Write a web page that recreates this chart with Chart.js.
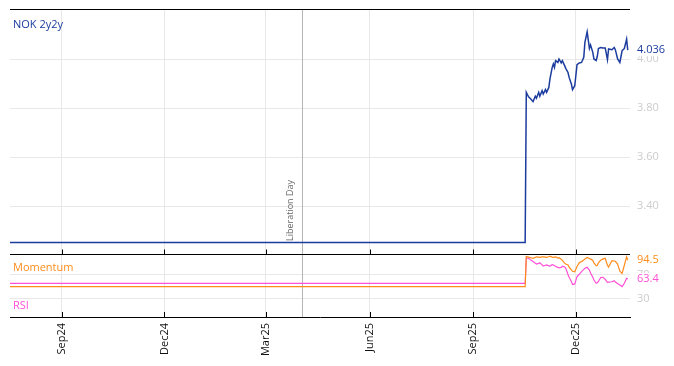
<!DOCTYPE html>
<html><head><meta charset="utf-8">
<script src="https://cdn.jsdelivr.net/npm/chart.js@4.4.0/dist/chart.umd.min.js"></script>
<style>html,body{margin:0;padding:0;background:#fff;}#wrap{width:674px;height:366px;}</style>
</head><body><div id="wrap"><canvas id="c" width="674" height="366"></canvas></div>
<script>
// ---- data ----
const dates = ['2024-07-17','2025-10-17','2025-10-18','2025-10-20','2025-10-22','2025-10-24','2025-10-26','2025-10-27','2025-10-29','2025-10-30',
'2025-11-01','2025-11-02','2025-11-04','2025-11-05','2025-11-07','2025-11-08','2025-11-10','2025-11-11','2025-11-12','2025-11-13',
'2025-11-15','2025-11-16','2025-11-18','2025-11-19','2025-11-21','2025-11-22','2025-11-24','2025-11-25','2025-11-27','2025-11-28',
'2025-11-30','2025-12-02','2025-12-04','2025-12-06','2025-12-08','2025-12-09','2025-12-11','2025-12-13','2025-12-14','2025-12-16',
'2025-12-17','2025-12-19','2025-12-20','2025-12-21','2025-12-23','2025-12-25','2025-12-27','2025-12-29','2025-12-30','2026-01-02',
'2026-01-04','2026-01-05','2026-01-07','2026-01-09','2026-01-11','2026-01-13','2026-01-15','2026-01-16'];
const nok2y2y = [3.251,3.251,3.864,3.846,3.837,3.826,3.848,3.840,3.864,3.848,
3.871,3.857,3.875,3.864,3.884,3.919,3.966,3.980,3.966,3.993,
3.986,4.000,3.984,3.993,3.973,3.962,3.945,3.925,3.898,3.875,
3.891,3.977,3.984,3.986,4.007,4.068,4.111,4.043,4.057,4.027,
4.000,3.994,4.011,4.043,4.047,4.045,4.045,3.997,4.041,4.038,
4.047,4.038,4.000,3.986,4.034,4.043,4.081,4.036];
const momentum = [50.3,50.3,100.5,99.5,98.5,97.5,99,100,99.5,99,
100,100,99.5,99,100,101,99.5,99,99.5,100,
98,98.5,96,94,89.5,88,86.5,83,78.5,76,
75,84,90,92,94.5,96.5,99,97,96.5,94,
90,85,86,90,94.5,96.5,97.5,86,83,93.5,
93,92.5,88,76,72.5,86,100,94.5];
const rsi = [56,56,98,97.5,94.5,92,89.5,88,89,90,
86.5,84.7,86,86.4,85,84.7,87,86.4,85.5,84,
82.5,81.5,82.5,84.5,83,81,70.5,66,59,54,
55,67,71,75.5,79,81,82.5,78,73,66,
61.5,56,57,59,65.5,66,62.5,57.5,58,58.6,
60.3,58,55.5,53,50.5,56,64.3,63.4];
const xTickDates = ['2024-09-01','2024-12-01','2025-03-01','2025-06-01','2025-09-01','2025-12-01'];
const xTickLabels = ['Sep24','Dec24','Mar25','Jun25','Sep25','Dec25'];
const priceTicks = [3.4,3.6,3.8,4.0];
const indicatorTicks = [30,70];
const axisStart = '2024-07-17', axisEnd = '2026-01-18';
const eventDate = '2025-04-02', eventLabel = 'Liberation Day';
const seriesNames = ['NOK 2y2y','Momentum','RSI'];

// ---- styles ----
const C_PRICE = '#1c3c9e', C_MOM = '#ff8c1a', C_RSI = '#ff4fd6';
const FONT = "'Open Sans', 'DejaVu Sans', sans-serif";
const ms = s => Date.parse(s);
const pts = arr => arr.map((v,i)=>({x: ms(dates[i]), y: v}));

Chart.defaults.font.family = FONT;
Chart.defaults.font.size = 11;

const overlay = {
  id: 'overlay',
  beforeDatasetsDraw(chart){
    const {ctx, chartArea:a, scales} = chart;
    const ex = Math.round(scales.x.getPixelForValue(ms(eventDate))) + 0.5;
    ctx.save();
    ctx.strokeStyle = '#b5b5b5'; ctx.lineWidth = 1;
    ctx.beginPath(); ctx.moveTo(ex, a.top); ctx.lineTo(ex, a.bottom); ctx.stroke();
    ctx.translate(ex - 12, scales.y.bottom - 14);
    ctx.rotate(-Math.PI/2);
    ctx.font = '9px ' + FONT; ctx.fillStyle = '#666';
    ctx.textAlign = 'left'; ctx.textBaseline = 'middle';
    ctx.fillText(eventLabel, 0, 0);
    ctx.restore();
  },
  afterDraw(chart){
    const {ctx, chartArea:a, scales} = chart;
    const y = scales.y, y2 = scales.y2, x = scales.x;
    ctx.save();
    ctx.strokeStyle = '#000'; ctx.lineWidth = 1;
    const topY = Math.round(a.top) - 0.5, midY = Math.round(y.bottom) - 0.5;
    ctx.beginPath();
    ctx.moveTo(a.left, topY); ctx.lineTo(a.right, topY);
    ctx.moveTo(a.left, midY); ctx.lineTo(a.right, midY);
    ctx.stroke();
    ctx.beginPath();
    xTickDates.forEach(d => {
      const px = Math.round(x.getPixelForValue(ms(d))) + 0.5;
      ctx.moveTo(px, midY); ctx.lineTo(px, midY - 5);
      ctx.moveTo(px, a.bottom); ctx.lineTo(px, a.bottom - 5);
    });
    ctx.stroke();
    ctx.font = '11px ' + FONT; ctx.textAlign = 'left'; ctx.textBaseline = 'middle';
    ctx.fillStyle = C_PRICE; ctx.fillText(seriesNames[0], a.left + 3, a.top + 15);
    ctx.fillStyle = C_MOM; ctx.fillText(seriesNames[1], a.left + 3, y2.top + 13);
    ctx.fillStyle = C_RSI; ctx.fillText(seriesNames[2], a.left + 3, y2.bottom - 11);
    const lab = (txt, py, col) => {
      const w = ctx.measureText(txt).width;
      ctx.fillStyle = '#fff'; ctx.fillRect(a.right + 5, py - 6, w + 4, 12);
      ctx.fillStyle = col; ctx.fillText(txt, a.right + 7, py);
    };
    const n = dates.length - 1;
    lab(nok2y2y[n].toFixed(3), y.getPixelForValue(nok2y2y[n]), C_PRICE);
    lab(rsi[n].toFixed(1), y2.getPixelForValue(rsi[n]), C_RSI);
    lab(momentum[n].toFixed(1), y2.getPixelForValue(momentum[n]), C_MOM);
    ctx.restore();
  }
};

const yFit = ax => { ax.width = 44; ax.paddingTop = 0; ax.paddingBottom = 0; };

new Chart(document.getElementById('c'), {
  type: 'line',
  data: { datasets: [
    {data: pts(nok2y2y), yAxisID: 'y', borderColor: C_PRICE, borderWidth: 1.5, pointRadius: 0, tension: 0},
    {data: pts(momentum), yAxisID: 'y2', borderColor: C_MOM, borderWidth: 1.2, pointRadius: 0, tension: 0},
    {data: pts(rsi), yAxisID: 'y2', borderColor: C_RSI, borderWidth: 1.2, pointRadius: 0, tension: 0}
  ]},
  options: {
    responsive: false, animation: false, devicePixelRatio: 1, events: [],
    layout: {padding: {top: 10, left: 10, right: 0, bottom: 0}},
    plugins: {legend: {display: false}, tooltip: {enabled: false}},
    scales: {
      x: {
        type: 'linear', min: ms(axisStart), max: ms(axisEnd),
        afterBuildTicks: ax => { ax.ticks = xTickDates.map(d => ({value: ms(d)})); },
        afterFit: ax => { ax.height = 49; ax.paddingLeft = 0; ax.paddingRight = 0; },
        ticks: {autoSkip: false, minRotation: 90, maxRotation: 90, padding: 6, color: '#111',
          callback: (v) => { const i = xTickDates.findIndex(d => ms(d) === v); return i >= 0 ? xTickLabels[i] : ''; }},
        grid: {color: '#e8e8e8', drawTicks: false},
        border: {color: '#000', width: 1}
      },
      y: {
        type: 'linear', position: 'right', stack: 'panels', stackWeight: 245, weight: 0,
        min: 3.2, max: 4.2,
        afterBuildTicks: ax => { ax.ticks = priceTicks.map(v => ({value: v})); },
        afterFit: yFit,
        ticks: {color: '#cccccc', padding: 7, callback: v => v.toFixed(2)},
        grid: {color: '#e8e8e8', drawTicks: false},
        border: {display: false}
      },
      y2: {
        type: 'linear', position: 'right', stack: 'panels', stackWeight: 62, weight: 1,
        min: 0, max: 103,
        afterBuildTicks: ax => { ax.ticks = indicatorTicks.map(v => ({value: v})); },
        afterFit: yFit,
        ticks: {color: '#cccccc', padding: 7, callback: v => String(v)},
        grid: {color: '#e8e8e8', drawTicks: false},
        border: {display: false}
      }
    }
  },
  plugins: [overlay]
});
</script></body></html>
